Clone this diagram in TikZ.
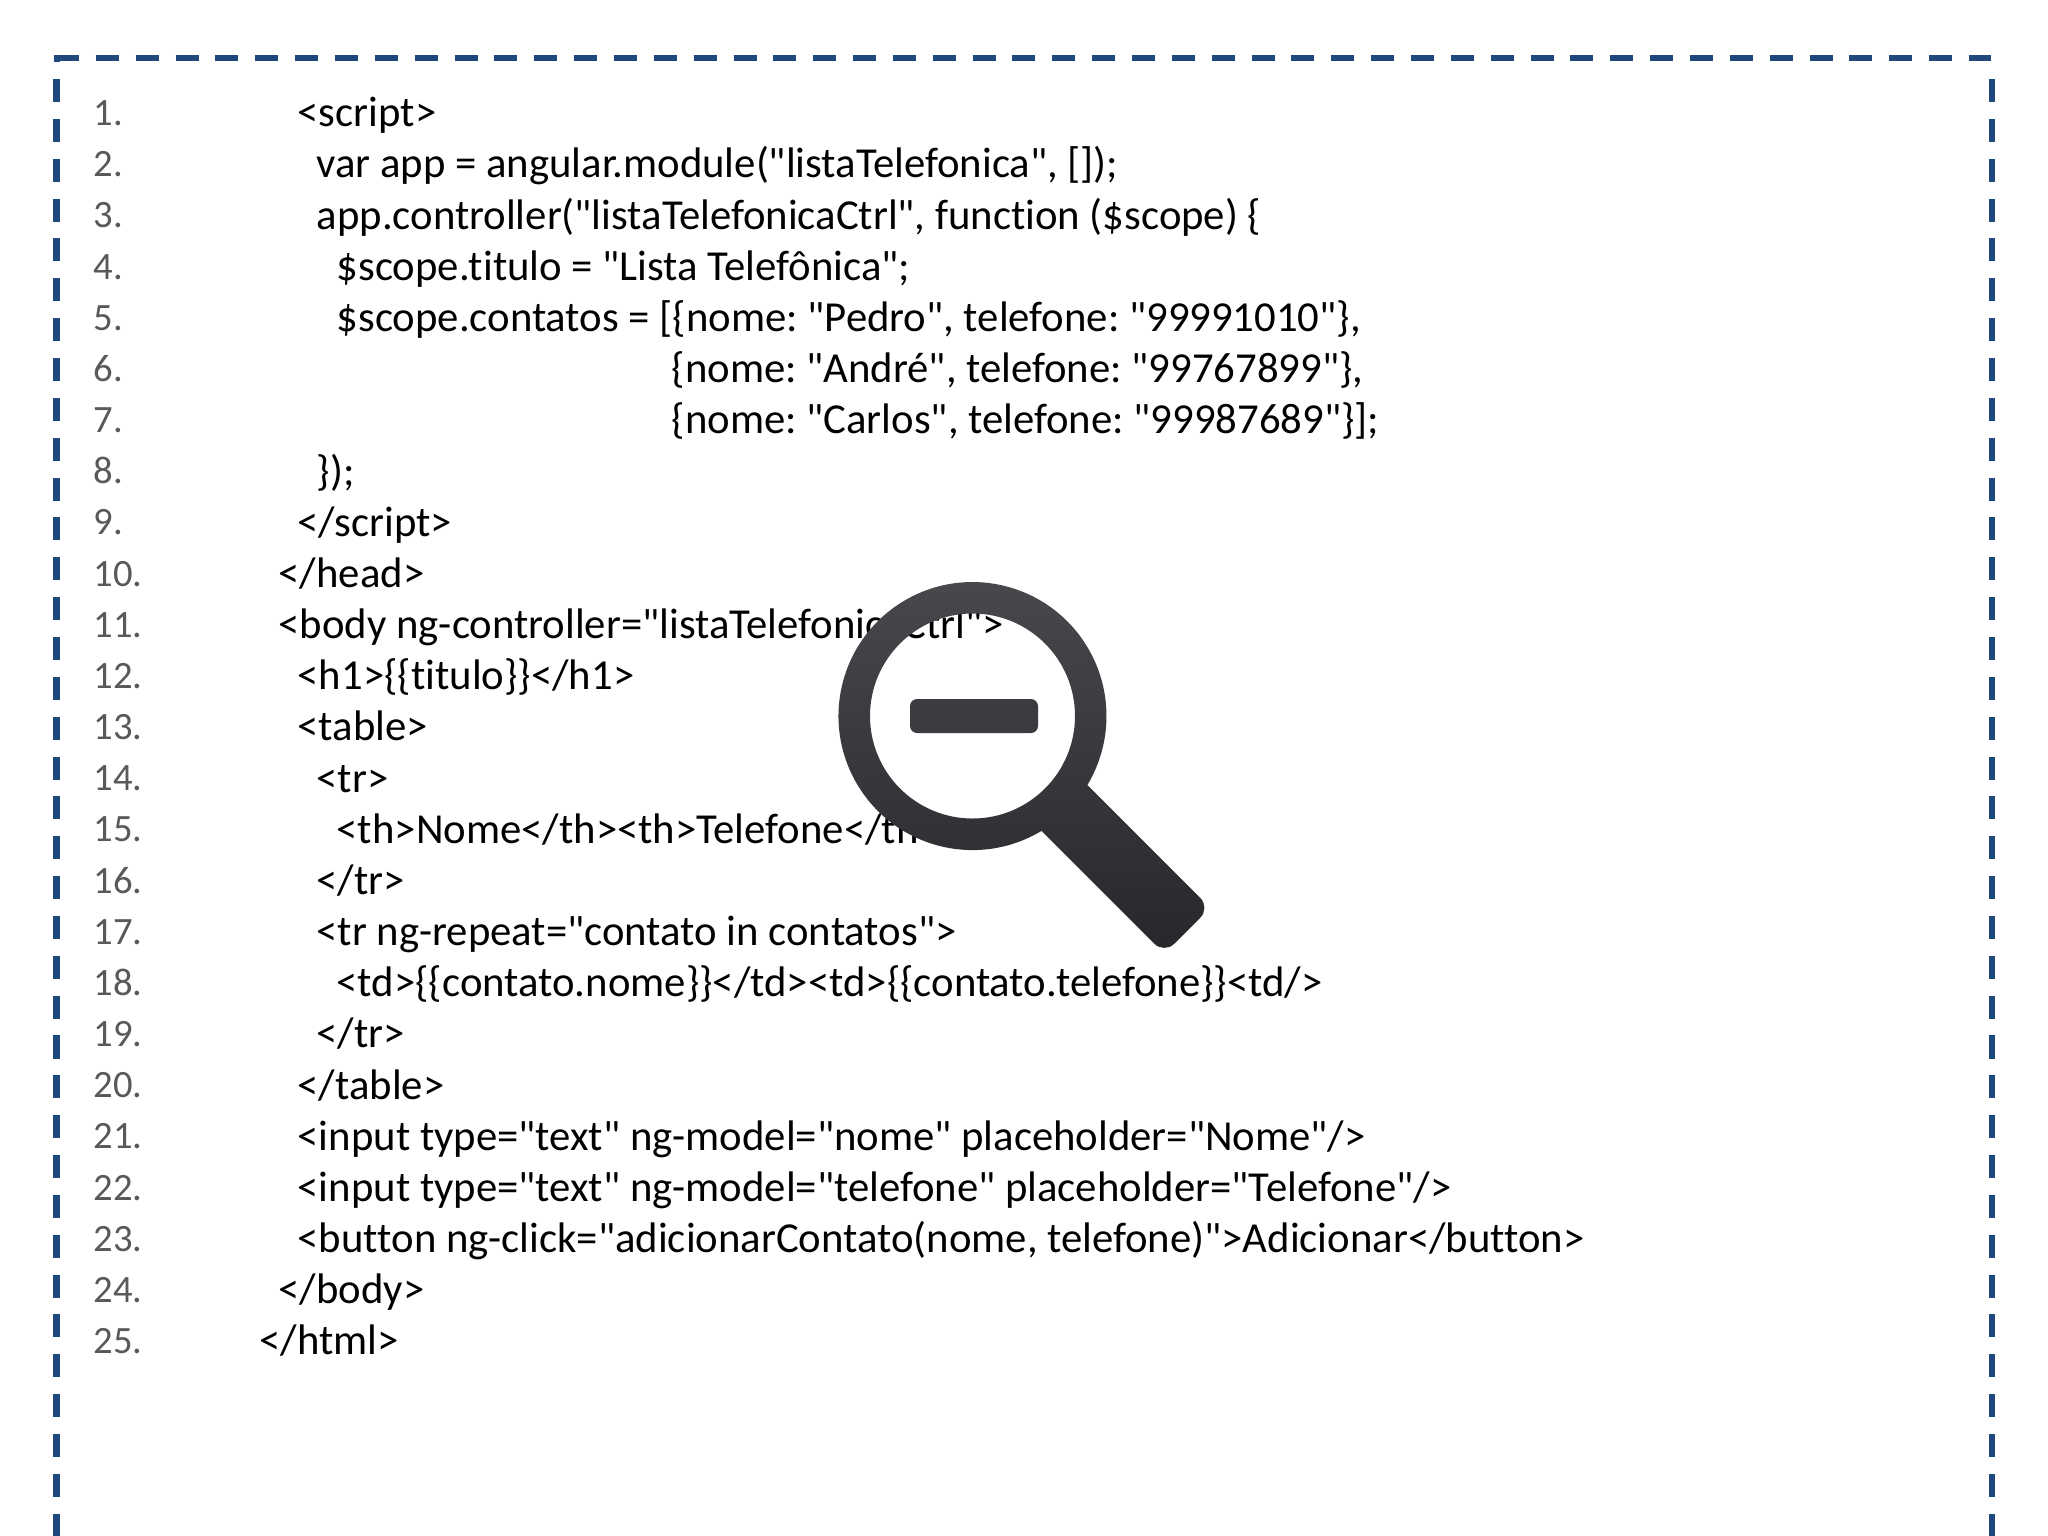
\documentclass[tikz,border=0pt]{standalone}
\usepackage{fontspec}
\newfontfamily\codefont{Carlito}[Ligatures = {NoCommon, NoRequired, NoContextual}]
\definecolor{framecolor}{HTML}{1F497D}
\definecolor{numcolor}{HTML}{595959}
\definecolor{lenstop}{HTML}{4B494D}
\definecolor{lensbottom}{HTML}{29272B}
\definecolor{minuscolor}{HTML}{3D3B3F}
\frenchspacing
\tikzset{
  codeline/.style = {anchor = base west, inner sep = 0, font = \codefont\fontsize{12.15pt}{14pt}\selectfont},
  numline/.style = {anchor = base west, inner sep = 0, text = numcolor, font = \codefont\fontsize{11pt}{14pt}\selectfont},
  frameline/.style = {draw = framecolor, line width = 0.06cm, dash pattern = on 0.23cm off 0.1683cm}
}
\begin{document}
\begin{tikzpicture}[x = 0.01cm, y = -0.01cm]
\useasboundingbox (0,0) rectangle (2048,1536);
\pgfmathsetmacro\lineheight{51.17};
\pgfmathsetmacro\firstline{125.5};
\newcommand{\codeat}[3]{\node[codeline] (line#2) at (#1-1,\firstline+1.3+\lineheight*#2-\lineheight) {#3};}
\foreach \n in {1,...,25} \node[numline] (num\n) at (93,\firstline+\lineheight*\n-\lineheight) {\n.};
\codeat{298}{1}{<script>}
\codeat{317}{2}{var app = angular.module("listaTelefonica", []);}
\codeat{317}{3}{app.controller("listaTelefonicaCtrl", function (\$scope) \{}
\codeat{337}{4}{\$scope.titulo = "Lista Telefônica";}
\codeat{337}{5}{\$scope.contatos = [\{nome: "Pedro", telefone: "99991010"\},}
\codeat{672}{6}{\{nome: "André", telefone: "99767899"\},}
\codeat{672}{7}{\{nome: "Carlos", telefone: "99987689"\}];}
\codeat{317}{8}{\});}
\codeat{298}{9}{</script>}
\codeat{279}{10}{</head>}
\codeat{279}{11}{<body ng-controller="listaTelefonicaCtrl">}
\codeat{298}{12}{<h1>\{\{titulo\}\}</h1>}
\codeat{298}{13}{<table>}
\codeat{317}{14}{<tr>}
\codeat{337}{15}{<th>Nome</th><th>Telefone</th>}
\codeat{317}{16}{</tr>}
\codeat{317}{17}{<tr ng-repeat="contato in contatos">}
\codeat{337}{18}{<td>\{\{contato.nome\}\}</td><td>\{\{contato.telefone\}\}<td/>}
\codeat{317}{19}{</tr>}
\codeat{298}{20}{</table>}
\codeat{298}{21}{<input type="text" ng-model="nome" placeholder="Nome"/>}
\codeat{298}{22}{<input type="text" ng-model="telefone" placeholder="Telefone"/>}
\codeat{298}{23}{<button ng-click="adicionarContato(nome, telefone)">Adicionar</button>}
\codeat{279}{24}{</body>}
\codeat{260}{25}{</html>}
\draw[frameline] (56,58.3) -- (1990.5,58.3);
\draw[frameline] (56.5,79) -- (56.5,1536);
\draw[frameline] (1991.7,79) -- (1991.7,1536);
\fill[framecolor] (53.5,55) rectangle (60,62);
\shade[top color = lenstop, bottom color = lensbottom, even odd rule]
  (1087.4,785) -- (1200.3,897.9) .. controls (1205.75,903.35) and (1205.75,912.25) .. (1200.3,917.7)
  -- (1174.2,943.8) .. controls (1168.75,949.25) and (1159.85,949.25) .. (1154.4,943.8)
  -- (1041.5,830.9) arc[start angle = 59, end angle = 391, radius = 134] -- cycle
  (972.5,716) circle[radius = 102.5];
\fill[minuscolor, rounded corners = 2] (910,699) rectangle (1038,733);
\end{tikzpicture}
\end{document}
